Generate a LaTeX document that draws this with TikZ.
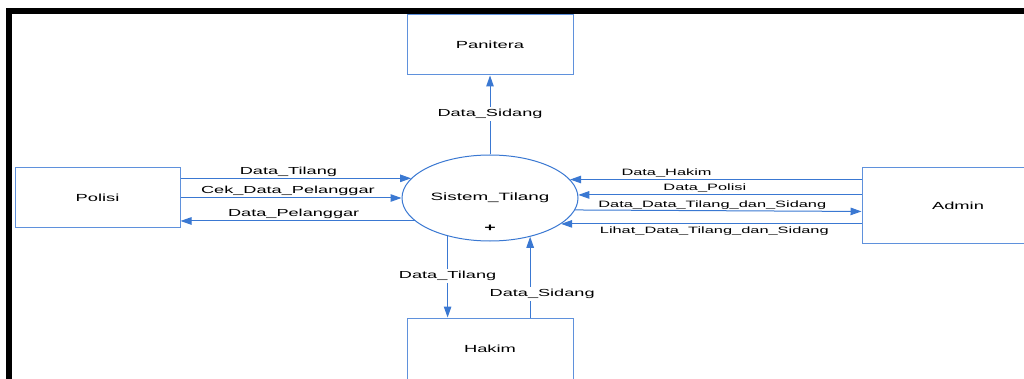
\documentclass[tikz,border=0pt]{standalone}
\usepackage{fontspec}
\setmainfont[FakeStretch=1.78]{Liberation Sans}
\usetikzlibrary{arrows.meta,shapes.geometric}
\definecolor{flowblue}{RGB}{58,120,210}
\definecolor{boxblue}{RGB}{95,145,220}
\tikzset{
  every picture/.style={x=1pt,y=-1pt},
  entity/.style={draw=boxblue,line width=1pt,fill=white,inner sep=0pt,font=\fontsize{10.3}{12}\selectfont},
  proc/.style={ellipse,draw=flowblue,line width=1pt,inner sep=0pt,minimum width=176pt,minimum height=86pt},
  flow/.style={draw=flowblue,line width=1pt,-{Triangle[length=11pt,width=7.5pt]}},
  lbl/.style={font=\fontsize{10.2}{12}\selectfont,inner sep=1pt},
  lbls/.style={font=\fontsize{9.2}{11}\selectfont,inner sep=1pt},
  wlbl/.style={lbl,fill=white,inner sep=2pt}
}
\begin{document}
\begin{tikzpicture}
\clip (0,0) rectangle (1024,379);
\fill[white] (0,0) rectangle (1024,379);
\fill[black] (6,8) rectangle (1024,14);
\fill[black] (6,8) rectangle (12,379);

\node[entity,minimum width=166pt,minimum height=60pt] (panitera) at (490,45) {Panitera};
\node[entity,minimum width=165pt,minimum height=60pt] (polisi) at (97.5,198) {Polisi};
\node[entity,minimum width=192pt,minimum height=75pt] (admin) at (958,205.5) {Admin};
\node[entity,minimum width=166pt,minimum height=62pt] (hakim) at (490,349) {Hakim};
\node[proc] (sys) at (490,198) {};
\node[font=\fontsize{10.6}{12}\selectfont] (systxt) at (490,198) {Sistem\_Tilang};
\node[font=\fontsize{11}{12}\selectfont\bfseries] (plus) at (490,228) {+};

% Panitera
\draw[flow] (sys.north) -- (panitera.south) node[wlbl,pos=0.51] (l1) {Data\_Sidang};

% Polisi
\draw[flow] (polisi.east |- sys.166.5) -- (sys.166.5) node[lbl,pos=0.468,yshift=6.5pt] (l2) {Data\_Tilang};
\draw[flow] (polisi.east |- sys.180) -- (sys.180) node[lbl,pos=0.486,yshift=7.5pt] (l3) {Cek\_Data\_Pelanggar};
\draw[flow] (sys.197.3) -- (sys.197.3 -| polisi.east) node[lbl,pos=0.517,yshift=7.5pt] (l4) {Data\_Pelanggar};

% Admin
\draw[flow] (admin.west |- sys.13.5) -- (sys.13.5) node[lbls,pos=0.669,yshift=6.5pt] (l5) {Data\_Hakim};
\draw[flow] (admin.west |- sys.2) -- (sys.2) node[lbls,pos=0.553,yshift=6.5pt] (l6) {Data\_Polisi};
\draw[flow] (sys.-8.8) -- ([yshift=-1.5pt]sys.-8.8 -| admin.west) node[lbls,pos=0.479,yshift=6pt] (l7) {Data\_Data\_Tilang\_dan\_Sidang};
\draw[flow] (admin.west |- sys.-20.4) -- (sys.-20.4) node[lbls,pos=0.49,yshift=-7pt] (l8) {Lihat\_Data\_Tilang\_dan\_Sidang};

% Hakim
\draw[flow] (sys.222.8) -- (sys.222.8 |- hakim.north) node[wlbl,pos=0.49] (l9) {Data\_Tilang};
\draw[flow] (sys.316.5 |- hakim.north) -- (sys.316.5) node[wlbl,pos=0.29,xshift=12pt] (l10) {Data\_Sidang};
\end{tikzpicture}
\end{document}
